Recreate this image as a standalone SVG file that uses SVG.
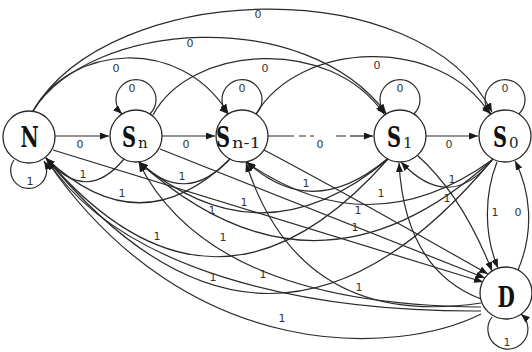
<svg xmlns="http://www.w3.org/2000/svg" width="532" height="352" viewBox="0 0 532 352">
<defs>
<marker id="ah" markerUnits="userSpaceOnUse" markerWidth="9" markerHeight="7" viewBox="0 0 9 7" refX="9" refY="3.5" orient="auto"><path d="M0,0 L9,3.5 L0,7 z" fill="#1a1a1a"/></marker>
</defs>
<style>
.e{fill:none;stroke:#2a2a2a;stroke-width:1.2}
.a{marker-end:url(#ah)}
.n circle{fill:#fff;stroke:#2a2a2a;stroke-width:1.3}
.lb{font-family:"DejaVu Sans",sans-serif;font-size:11px;fill:#333;text-anchor:middle}
.m{font-family:"DejaVu Serif",serif;font-weight:bold;font-size:27px;fill:#111}
.s{font-family:"DejaVu Serif",serif;font-weight:normal;font-size:15px;fill:#222}
</style>
<rect width="532" height="352" fill="#fff"/>
<g id="connectors">
<path class="e a" d="M55,136 H109"/>
<path class="e a" d="M162,136 H215"/>
<path class="e" d="M268,136 H294 M299,136 H306 M310,136 H314 M336,136 H346"/>
<path class="e a" d="M350,136 H373"/>
<path class="e a" d="M426,136 H478"/>
<path class="e a" d="M33,111 C110,-20 420,-30 492,112"/>
<path class="e a" d="M33,111 C90,20 305,5 386,113"/>
<path class="e a" d="M33,111 C70,45 180,35 228,113"/>
<path class="e a" d="M153,115 C190,45 330,35 384,114"/>
<path class="e a" d="M256,114 C300,40 440,35 490,114"/>
<path class="e a" d="M150,114 A20,20 0 1,0 122,114"/>
<path class="e a" d="M256,114 A20,20 0 1,0 228,114"/>
<path class="e a" d="M414,114 A20,20 0 1,0 386,114"/>
<path class="e a" d="M519,114 A20,20 0 1,0 491,114"/>
<path class="e a" d="M14,160 A18,18 0 1,0 44,161"/>
<path class="e a" d="M492,317 A20,20 0 1,0 521,314"/>
<path class="e a" d="M518,270 C535,230 530,190 515,161"/>
<path class="e a" d="M497,162 C484,195 484,235 498,268"/>
<path class="e a" d="M124,159 Q86,205 46,158"/>
<path class="e a" d="M230,159 Q140,247 46,158"/>
<path class="e a" d="M388,159 Q215,355 46,158"/>
<path class="e a" d="M492,160 Q268,428 46,158"/>
<path class="e a" d="M230,159 Q185,207 139,162"/>
<path class="e a" d="M388,159 Q262,265 139,162"/>
<path class="e a" d="M492,160 Q315,320 139,162"/>
<path class="e a" d="M387,159 Q312,222 247,162"/>
<path class="e a" d="M492,160 Q370,248 246,162"/>
<path class="e a" d="M493,159 Q450,214 401,162"/>
<path class="e a" d="M53,150 L483,282"/>
<path class="e a" d="M160,149 L485,278"/>
<path class="e a" d="M264,150 Q340,190 488,274"/>
<path class="e a" d="M417,155 Q462,195 492,271"/>
<path class="e a" d="M481,299 Q405,270 399,163"/>
<path class="e a" d="M481,303 Q300,330 246,163"/>
<path class="e a" d="M481,307 Q210,305 139,163"/>
<path class="e a" d="M481,311 C300,312 120,270 47,160"/>
<path class="e a" d="M481,314 C400,355 190,368 47,161"/>
<text class="lb" x="80" y="148">0</text>
<text class="lb" x="186" y="148">0</text>
<text class="lb" x="320" y="148">0</text>
<text class="lb" x="449" y="148">0</text>
<text class="lb" x="258" y="18">0</text>
<text class="lb" x="190" y="47">0</text>
<text class="lb" x="116" y="72">0</text>
<text class="lb" x="265" y="72">0</text>
<text class="lb" x="377" y="69">0</text>
<text class="lb" x="132" y="92">0</text>
<text class="lb" x="242" y="92">0</text>
<text class="lb" x="400" y="92">0</text>
<text class="lb" x="505" y="92">0</text>
<text class="lb" x="518" y="216">0</text>
<text class="lb" x="495" y="216">1</text>
<text class="lb" x="30" y="185">1</text>
<text class="lb" x="507" y="346">1</text>
<text class="lb" x="83" y="178">1</text>
<text class="lb" x="122" y="197">1</text>
<text class="lb" x="157" y="240">1</text>
<text class="lb" x="213" y="281">1</text>
<text class="lb" x="182" y="180">1</text>
<text class="lb" x="244" y="206">1</text>
<text class="lb" x="355" y="231">1</text>
<text class="lb" x="306" y="187">1</text>
<text class="lb" x="381" y="197">1</text>
<text class="lb" x="452" y="183">1</text>
<text class="lb" x="212" y="214">1</text>
<text class="lb" x="358" y="214">1</text>
<text class="lb" x="447" y="202">1</text>
<text class="lb" x="359" y="291">1</text>
<text class="lb" x="223" y="241">1</text>
<text class="lb" x="263" y="278">1</text>
<text class="lb" x="282" y="322">1</text>
</g>
<g id="N" class="n"><circle cx="29" cy="137" r="26"/><text class="m" transform="translate(20.5,147) scale(0.74,1)">N</text></g>
<g id="Sn" class="n"><circle cx="136" cy="136" r="26"/><text class="m" transform="translate(122,147) scale(0.72,1)">S</text><text class="s" x="138" y="148">n</text></g>
<g id="Sn-1" class="n"><circle cx="242" cy="136" r="26"/><text class="m" transform="translate(216,147) scale(0.72,1)">S</text><text class="s" x="232" y="148" textLength="29" lengthAdjust="spacingAndGlyphs">n-1</text></g>
<g id="S1" class="n"><circle cx="400" cy="136" r="26"/><text class="m" transform="translate(387,147) scale(0.72,1)">S</text><text class="s" x="403" y="148">1</text></g>
<g id="S0" class="n"><circle cx="505" cy="136" r="26"/><text class="m" transform="translate(493,147) scale(0.72,1)">S</text><text class="s" x="509" y="148">0</text></g>
<g id="D" class="n"><circle cx="506" cy="293" r="26"/><text class="m" transform="translate(497.5,307) scale(0.74,1)">D</text></g>
</svg>
